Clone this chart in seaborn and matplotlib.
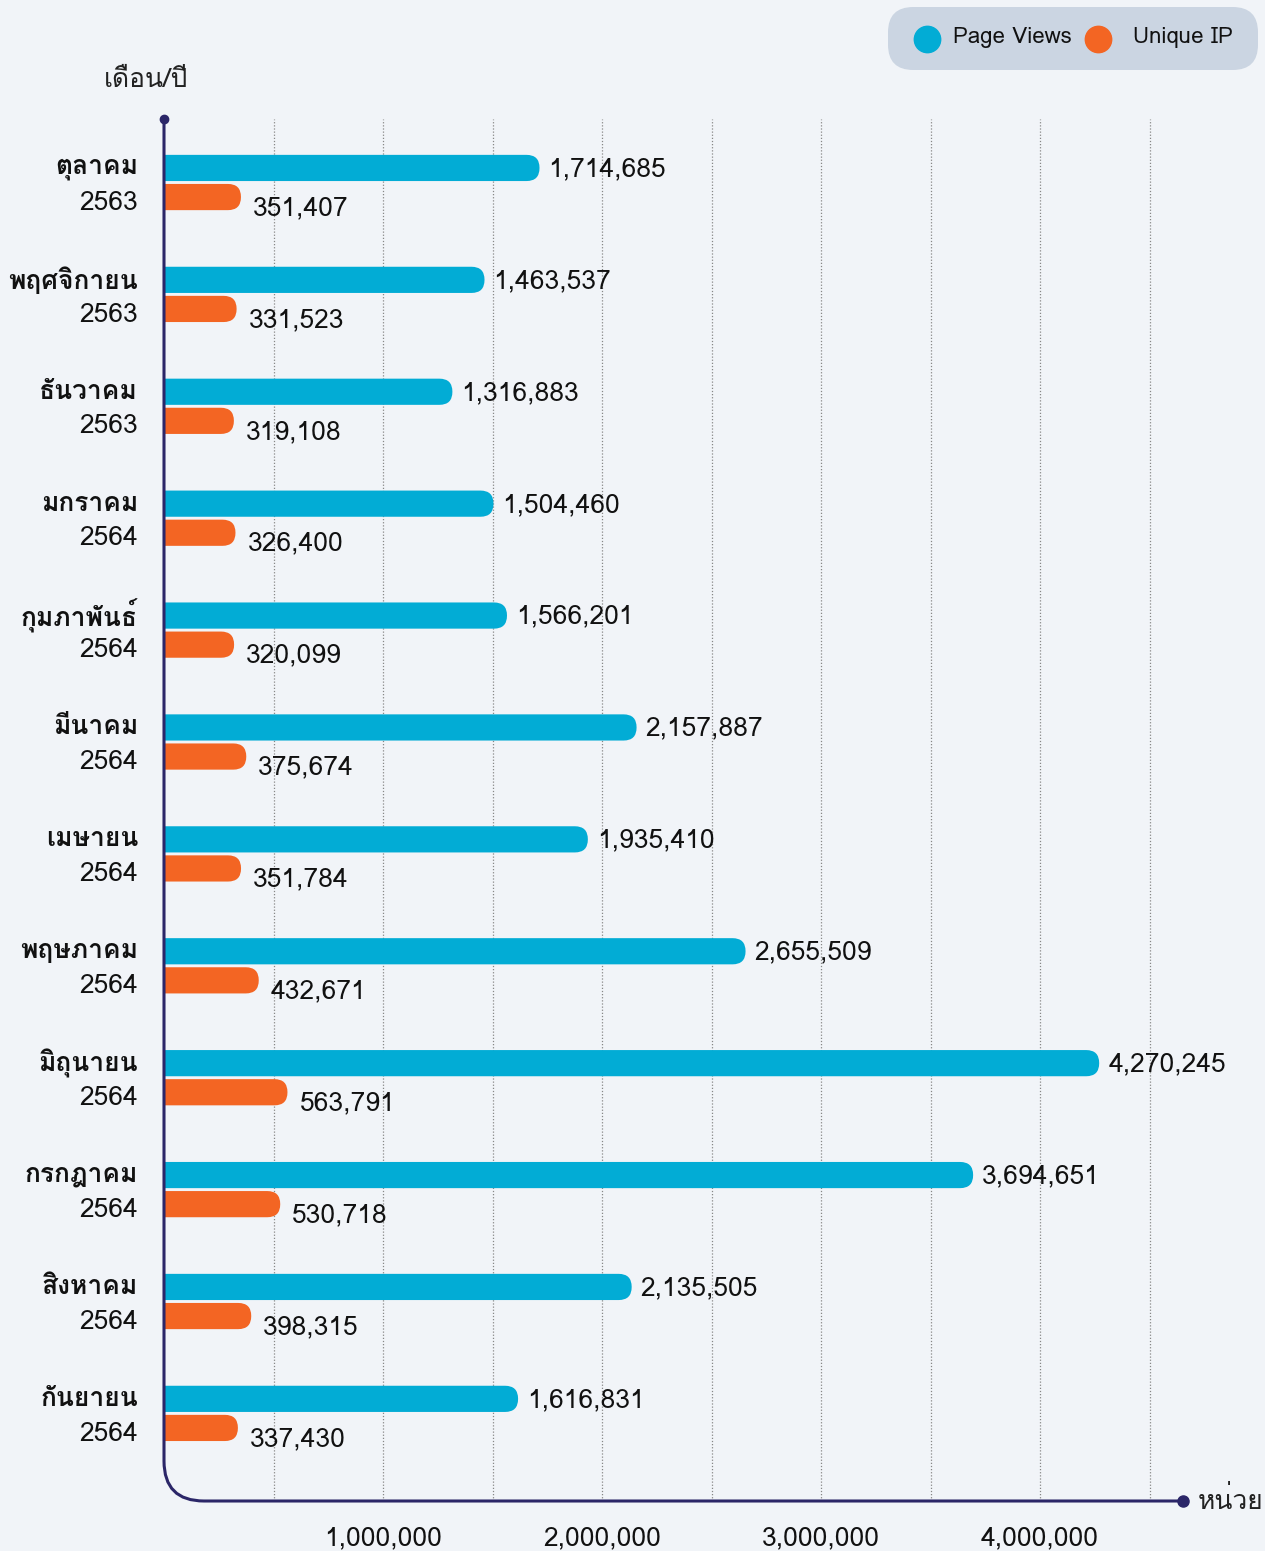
import pandas as pd
import seaborn as sns
import matplotlib.pyplot as plt
from matplotlib import font_manager
from matplotlib.ft2font import FT2Font
from matplotlib.patches import FancyBboxPatch, PathPatch
from matplotlib.lines import Line2D
from matplotlib.path import Path

months = ["ตุลาคม", "พฤศจิกายน", "ธันวาคม", "มกราคม", "กุมภาพันธ์", "มีนาคม",
          "เมษายน", "พฤษภาคม", "มิถุนายน", "กรกฎาคม", "สิงหาคม", "กันยายน"]
years = ["2563", "2563", "2563", "2564", "2564", "2564",
         "2564", "2564", "2564", "2564", "2564", "2564"]
page_views = [1714685, 1463537, 1316883, 1504460, 1566201, 2157887,
              1935410, 2655509, 4270245, 3694651, 2135505, 1616831]
unique_ip = [351407, 331523, 319108, 326400, 320099, 375674,
             351784, 432671, 563791, 530718, 398315, 337430]
series = ["Page Views", "Unique IP"]
colors = ["#02acd5", "#f36523"]
tick_vals = [1000000, 2000000, 3000000, 4000000]


# pick a family that actually has Thai glyphs
def thai_font():
    for f in font_manager.fontManager.ttflist:
        try:
            ft = FT2Font(f.fname)
            if ft.get_char_index(ord("ด")) and ft.get_char_index(ord("1")):
                return f.name
        except Exception:
            pass
    return "DejaVu Sans"


sns.set_theme(style="white")
tf = thai_font()
plt.rcParams["font.family"] = [tf, "DejaVu Sans"]

labels = [f"{m}\n{y}" for m, y in zip(months, years)]
df = pd.DataFrame({
    "label": labels * 2,
    "value": page_views + unique_ip,
    "series": [series[0]] * 12 + [series[1]] * 12,
})

bg = "#f1f4f8"
fig = plt.figure(figsize=(12.65, 15.51), dpi=100, facecolor=bg)
W, H = 1265, 1551
ax = fig.add_axes([164 / W, 1 - 1501 / H, (1183 - 164) / W, (1501 - 119) / H])
ax.set_facecolor(bg)

sns.barplot(data=df, y="label", x="value", hue="series", palette=colors,
            orient="h", width=0.52, gap=0.1, saturation=1, legend=False, ax=ax)

xmax = (1183 - 164) / 219 * 1000000
ax.set_xlim(0, xmax)
ax.set_ylim((1501 - 182.5) / 111.9, -63.5 / 111.9)

# units per pixel, used for rounding and offsets
upx = xmax / (1183 - 164)
upy = ((1501 - 182.5) / 111.9 + 63.5 / 111.9) / (1501 - 119)

for p in list(ax.patches):
    x0, y0 = p.get_x(), p.get_y()
    w, h = p.get_width(), p.get_height()
    r = 13 * upx
    fb = FancyBboxPatch((x0 - r, y0), w + r, h,
                        boxstyle=f"round,pad=0,rounding_size={r}",
                        mutation_aspect=upy / upx,
                        facecolor=p.get_facecolor(), edgecolor="none",
                        clip_on=True, zorder=3)
    ax.add_patch(fb)
    p.remove()

# value labels
for i in range(12):
    ax.text(page_views[i] + 9 * upx, i - 0.12, f"{page_views[i]:,}",
            va="center", ha="left", fontsize=19, color="#111111")
    ax.text(unique_ip[i] + 12 * upx, i + 0.13 + 11 * upy, f"{unique_ip[i]:,}",
            va="center", ha="left", fontsize=19, color="#111111")

# dotted grid every 500k
for g in range(1, 10):
    ax.axvline(g * 500000, color="#888888", lw=0.9, ls=(0, (1, 1.5)), zorder=1)

ax.set_yticks(range(12))
ax.set_yticklabels([])
for i, (m, y) in enumerate(zip(months, years)):
    ax.text(-26 * upx, i - 0.13, m, ha="right", va="center", fontsize=19,
            fontweight="bold", color="#111111", clip_on=False)
    ax.text(-26 * upx, i + 0.18, y, ha="right", va="center", fontsize=19,
            color="#111111", clip_on=False)

ax.set_xticks(tick_vals)
ax.set_xticklabels([f"{v:,}" for v in tick_vals], fontsize=19, color="#111111")
ax.tick_params(axis="x", length=0, pad=27)
ax.tick_params(axis="y", length=0)
for lab in ax.get_xticklabels():
    lab.set_va("center")
ax.set_xlabel("")
ax.set_ylabel("")
for s in ax.spines.values():
    s.set_visible(False)

# axis lines with rounded corner
navy = "#2b2668"
rr = 40
codes = [Path.MOVETO, Path.LINETO, Path.CURVE3, Path.CURVE3, Path.LINETO]
path = Path([(164, H - 119), (164, H - (1501 - rr)), (164, H - 1501),
             (164 + rr, H - 1501), (1183, H - 1501)], codes)
fig.patches.append(PathPatch(path, transform=None, fill=False, edgecolor=navy,
                             lw=2.2, zorder=5))
fig.add_artist(Line2D([164], [H - 119], marker="o", color=navy, ms=6,
                      transform=None))
fig.add_artist(Line2D([1183], [H - 1501], marker="o", color=navy, ms=8,
                      transform=None))
fig.text(104 / W, 1 - 80 / H, "เดือน/ปี", ha="left", va="center",
         fontsize=19, color="#222222")
fig.text(1198 / W, 1 - 1500 / H, "หน่วย", ha="left", va="center",
         fontsize=19, color="#222222")

# legend box
lb = FancyBboxPatch((888 / W, 1 - 70 / H), (1258 - 888) / W, 63 / H,
                    boxstyle="round,pad=0,rounding_size=0.02",
                    mutation_aspect=W / H,
                    transform=fig.transFigure, facecolor="#cbd5e2",
                    edgecolor="none")
fig.patches.append(lb)
for cx, col, txt, tx in [(927, colors[0], series[0], 953),
                         (1098, colors[1], series[1], 1133)]:
    fig.add_artist(Line2D([cx / W], [1 - 39 / H], marker="o", ms=19,
                          color=col, transform=fig.transFigure))
    fig.text(tx / W, 1 - 38 / H, txt, ha="left", va="center", fontsize=16,
             color="#111111")

fig.savefig("out.png", dpi=100, facecolor=bg)
